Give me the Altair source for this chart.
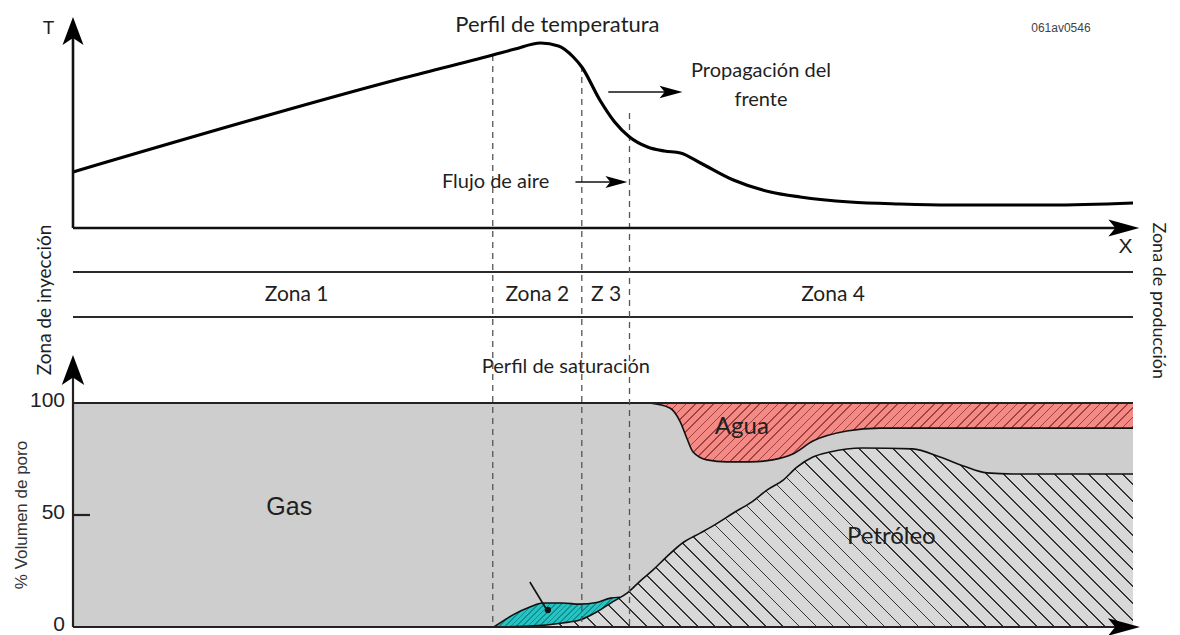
import altair as alt
import numpy as np
import pandas as pd

# ---------------- data ----------------
# x: distance along the reservoir (0 = injection side, 100 = production side)
TEMP_X = [0, 30.8, 39.6, 41.7, 44.1, 45.8, 47.2, 48.0, 49.7, 51.1, 52.5, 54.2, 55.8,
          57.3, 59.2, 62.3, 65.8, 68.6, 73.3, 78.0, 82.7, 92.2, 100]
TEMP_T = [28, 74.5, 86.5, 89.5, 92.5, 91, 85.5, 80.5, 64, 53, 45.5, 40.5, 38.5,
          37.5, 32.5, 24, 18, 15.5, 13, 12, 11.5, 11.5, 12.5]

FRONT_X = [39.6, 48.0, 52.5]
FRONT_TOP_T = [86.5, 81, 57.5]

ZONE_LABELS = ["Zona 1", "Zona 2", "Z 3", "Zona 4"]
ZONE_X = [21.1, 43.8, 50.3, 71.7]

SAT_TICKS = [0, 50, 100]

OIL_X = [39.7, 43.1, 46.2, 47.8, 49.4, 50.9, 52.3, 53.5, 54.7, 56.0, 57.5, 59.2, 60.8,
         62.3, 63.9, 65.5, 67.0, 68.3, 69.8, 71.4, 74.5, 79.2, 81.8, 84.0, 86.2, 88.7, 100]
OIL_TOP = [0, 0.4, 1.8, 3.1, 6.7, 11.2, 15.2, 20.5, 25.4, 31.3, 37.5, 42.0, 46.4,
           50.9, 55.4, 61.2, 65.6, 71.4, 75.9, 78.1, 79.9, 79.5, 75.9, 71.9, 68.8, 68.3, 68.3]

TEAL_X = [39.7, 41.5, 43.1, 44.3, 46.2, 47.8, 49.4, 50.7, 51.6]
TEAL_TOP = [0, 5.4, 8.9, 10.7, 10.7, 10.2, 10.9, 12.9, 13.3]
TEAL_BOTTOM = [0, 0.2, 0.4, 0.8, 1.8, 3.1, 6.7, 10.4, 13.3]

WATER_X = [54.4, 56.3, 57.3, 57.9, 58.5, 59.8, 61.7, 63.9, 66.0, 67.9, 69.8, 73.0, 76.1, 100]
WATER_BOTTOM = [100, 97.8, 91.5, 84.4, 78.1, 74.6, 73.7, 73.7, 74.6, 77.2, 83.0, 87.5, 88.8, 88.8]

# ---------------- layout / scales ----------------
W, H = 1164, 619
X_RANGE = [65, 1125]
YT_RANGE = [220, 20]     # temperature panel
YB_RANGE = [309, 264]    # zone band
YS_RANGE = [619, 395]    # saturation panel

XS = alt.Scale(domain=[0, 100], range=X_RANGE, nice=False, zero=False)
YT = alt.Scale(domain=[0, 100], range=YT_RANGE, nice=False, zero=False)
YB = alt.Scale(domain=[0, 1], range=YB_RANGE, nice=False, zero=False)
YS = alt.Scale(domain=[0, 100], range=YS_RANGE, nice=False, zero=False)

PX_X = (X_RANGE[1] - X_RANGE[0]) / 100.0
PX_YS = (YS_RANGE[0] - YS_RANGE[1]) / 100.0

LATO = "Lato"
ARIAL = "Liberation Sans"
INK = "#1f1f1f"

UP_BIG = "M0,0 L0.75,2 L0,1.5 L-0.75,2 Z"
SLIM = "M0,0 L0.55,2 L0,1.55 L-0.55,2 Z"


def hatch(w, h, direction, spacing, lw, bg, fg):
    s = 1 / np.sqrt(2)
    nx, ny = (s, -s) if direction == "\\" else (s, s)
    ex, ey = nx * w, ny * h
    q = [u * ex + v * ey for u, v in [(0, 0), (1, 0), (0, 1), (1, 1)]]
    qmin, qmax = min(q), max(q)
    qc = 0.5 * (ex + ey)
    e2 = ex * ex + ey * ey
    x1 = 0.5 + ex * (qmin - qc) / e2
    y1 = 0.5 + ey * (qmin - qc) / e2
    x2 = 0.5 + ex * (qmax - qc) / e2
    y2 = 0.5 + ey * (qmax - qc) / e2
    D = qmax - qmin
    n = int(np.ceil(D / spacing))
    stops = []
    for i in range(n):
        a = min(1.0, i * spacing / D)
        b = min(1.0, (i * spacing + lw) / D)
        c = min(1.0, (i + 1) * spacing / D)
        stops += [alt.GradientStop(offset=round(a, 5), color=fg),
                  alt.GradientStop(offset=round(b, 5), color=fg),
                  alt.GradientStop(offset=round(b, 5), color=bg),
                  alt.GradientStop(offset=round(c, 5), color=bg)]
    return alt.LinearGradient(gradient="linear", x1=float(x1), y1=float(y1),
                              x2=float(x2), y2=float(y2), stops=stops)


def bbox(xs, ys_lo, ys_hi):
    return ((max(xs) - min(xs)) * PX_X, (max(ys_hi) - min(ys_lo)) * PX_YS)


def X(field="x"):
    return alt.X(f"{field}:Q", scale=XS, axis=None)


def texts(df, yscale, font, align="center", color=INK, angle=0, dy=0):
    return alt.Chart(df).mark_text(font=font, align=align, baseline="middle",
                                   color=color, angle=angle, dy=dy).encode(
        x=X(), y=alt.Y("y:Q", scale=yscale, axis=None), text="label:N",
        size=alt.Size("size:Q", scale=None, legend=None))


def arrows(df, yscale, shape):
    return alt.Chart(df).mark_point(shape=shape, filled=True, color="black",
                                    opacity=1, strokeWidth=0).encode(
        x=X(), y=alt.Y("y:Q", scale=yscale, axis=None),
        size=alt.Size("size:Q", scale=None, legend=None),
        angle=alt.Angle("angle:Q", scale=None, legend=None))


def rules(df, yscale, color="black", width=2.0, dash=None):
    kw = dict(color=color, strokeWidth=width)
    if dash:
        kw["strokeDash"] = dash
    return alt.Chart(df).mark_rule(**kw).encode(
        x=X(), x2="x2:Q", y=alt.Y("y:Q", scale=yscale, axis=None), y2="y2:Q")


# ---------------- saturation panel ----------------
gas_df = pd.DataFrame({"x": [0, 100], "top": [100, 100]})
oil_df = pd.DataFrame({"x": OIL_X, "top": OIL_TOP})
teal_df = pd.DataFrame({"x": TEAL_X, "top": TEAL_TOP, "bottom": TEAL_BOTTOM})
water_df = pd.DataFrame({"x": WATER_X, "w": WATER_BOTTOM})

ow, oh = bbox(OIL_X, [0], OIL_TOP)
ww, wh = bbox(WATER_X, WATER_BOTTOM, [100])
tw, th = bbox(TEAL_X, TEAL_BOTTOM, TEAL_TOP)

gas = alt.Chart(gas_df).mark_area(fill="#cecece").encode(
    x=X(), y=alt.Y("top:Q", scale=YS, axis=None), y2=alt.datum(0))

oil = alt.Chart(oil_df).mark_area(
    interpolate="monotone",
    fill=hatch(ow, oh, "\\", 12, 1.2, "#d8d8d8", "#333333")).encode(
    x=X(), y=alt.Y("top:Q", scale=YS, axis=None), y2=alt.datum(0))

water = alt.Chart(water_df).mark_area(
    interpolate="monotone",
    fill=hatch(ww, wh, "/", 6.5, 1.1, "#f38a86", "#a04240")).encode(
    x=X(), y=alt.Y("w:Q", scale=YS, axis=None), y2=alt.datum(100))

teal = alt.Chart(teal_df).mark_area(
    interpolate="monotone",
    fill=hatch(tw, th, "/", 4, 1.1, "#25c3c3", "#11908f")).encode(
    x=X(), y=alt.Y("top:Q", scale=YS, axis=None), y2="bottom:Q")

line_kw = dict(color="#111", strokeWidth=1.6, interpolate="monotone")
oil_line = alt.Chart(oil_df).mark_line(**line_kw).encode(
    x=X(), y=alt.Y("top:Q", scale=YS, axis=None))
teal_line = alt.Chart(teal_df).mark_line(**line_kw).encode(
    x=X(), y=alt.Y("top:Q", scale=YS, axis=None))
water_line = alt.Chart(water_df).mark_line(**line_kw).encode(
    x=X(), y=alt.Y("w:Q", scale=YS, axis=None))

sat_frame = rules(pd.DataFrame({"x": [0, 0, 0, 0], "x2": [100, 0, 99.4, 1.6],
                                "y": [100, 0, 0, 50], "y2": [100, 118, 0, 50]}),
                  YS, color="#222", width=2.2)
sat_up = arrows(pd.DataFrame({"x": [0], "y": [121.4], "size": [900], "angle": [0]}), YS, UP_BIG)
sat_right = arrows(pd.DataFrame({"x": [100.66], "y": [0], "size": [1024], "angle": [90]}), YS, SLIM)

pointer = rules(pd.DataFrame({"x": [43.1], "x2": [44.7], "y": [20.1], "y2": [7.6]}), YS,
                color="#111", width=1.6)
dot = alt.Chart(pd.DataFrame({"x": [44.8], "y": [7.6]})).mark_point(
    filled=True, color="#111", size=40, opacity=1).encode(
    x=X(), y=alt.Y("y:Q", scale=YS, axis=None))

tick_labels = texts(pd.DataFrame({"label": [str(v) for v in SAT_TICKS],
                                  "x": [-0.75] * len(SAT_TICKS), "y": SAT_TICKS,
                                  "size": [21] * len(SAT_TICKS)}),
                    YS, ARIAL, align="right", color="#222", dy=-2)
axis_title = texts(pd.DataFrame({"label": ["% Volumen de poro"], "x": [-4.81], "y": [50],
                                 "size": [17]}), YS, ARIAL, color="#333", angle=270)

sat_text_lato = texts(pd.DataFrame({
    "label": ["Perfil de saturación", "Agua", "Petróleo"],
    "x": [46.5, 63.1, 77.2], "y": [116, 89.3, 40.2], "size": [20, 24, 24]}), YS, LATO)
sat_text_arial = texts(pd.DataFrame({
    "label": ["Gas"], "x": [20.4], "y": [53.6], "size": [25]}), YS, ARIAL)

saturation = alt.layer(gas, oil, water, teal, oil_line, teal_line, water_line,
                       sat_frame, sat_up, sat_right, pointer, dot,
                       tick_labels, axis_title, sat_text_lato, sat_text_arial)

# ---------------- zone band ----------------
band_lines = rules(pd.DataFrame({"x": [0, 0], "x2": [100, 100], "y": [0, 1], "y2": [0, 1]}),
                   YB, color="#2a2a2a", width=2.0)
zone_text = texts(pd.DataFrame({"label": ZONE_LABELS, "x": ZONE_X,
                                "y": [0.5] * 4, "size": [21] * 4}), YB, LATO)
inj_text = texts(pd.DataFrame({"label": ["Zona de inyección"], "x": [-2.64], "y": [0.38],
                               "size": [19]}), YB, LATO, angle=270)
prod_text = texts(pd.DataFrame({"label": ["Zona de producción"], "x": [102.35], "y": [0.36],
                                "size": [18]}), YB, LATO, angle=90)
band = alt.layer(band_lines, zone_text, inj_text, prod_text)

# ---------------- temperature panel ----------------
temp_df = pd.DataFrame({"x": TEMP_X, "t": TEMP_T})
front_df = pd.DataFrame({"x": FRONT_X, "top": FRONT_TOP_T})

fronts = alt.Chart(front_df).mark_rule(color="#555", strokeWidth=1.3,
                                       strokeDash=[6, 5]).encode(
    x=X(), y=alt.Y("top:Q", scale=YT, axis=None), y2=alt.value("height"))
temp_line = alt.Chart(temp_df).mark_line(color="black", strokeWidth=3.2,
                                         interpolate="monotone").encode(
    x=X(), y=alt.Y("t:Q", scale=YT, axis=None))
temp_frame = rules(pd.DataFrame({"x": [0, 0], "x2": [0, 99.4], "y": [0, 0], "y2": [100, 0]}),
                   YT, color="#111", width=2.6)
flow_shafts = rules(pd.DataFrame({"x": [50.5, 47.4], "x2": [56.0, 51.0],
                                  "y": [68, 23], "y2": [68, 23]}), YT, color="#111", width=1.6)
temp_up = arrows(pd.DataFrame({"x": [0], "y": [105.5], "size": [784], "angle": [0]}), YT, UP_BIG)
temp_right = arrows(pd.DataFrame({"x": [100.6, 57.5, 52.3], "y": [0, 68, 23],
                                  "size": [961, 529, 484], "angle": [90, 90, 90]}), YT, SLIM)
temp_text_c = texts(pd.DataFrame({
    "label": ["Perfil de temperatura", "Propagación del", "frente"],
    "x": [45.7, 64.9, 64.9], "y": [101.5, 78.5, 64], "size": [22, 20, 20]}), YT, LATO)
temp_text_l = texts(pd.DataFrame({"label": ["Flujo de aire"], "x": [34.8], "y": [23],
                                  "size": [20]}), YT, LATO, align="left")
temp_text_a = texts(pd.DataFrame({"label": ["T", "X"], "x": [-2.3, 99.3], "y": [100, -9.5],
                                  "size": [19, 21]}), YT, ARIAL)
code_text = texts(pd.DataFrame({"label": ["061av0546"], "x": [93.2], "y": [100], "size": [12]}),
                  YT, ARIAL, color="#444")

temperature = alt.layer(fronts, temp_line, temp_frame, flow_shafts, temp_up, temp_right,
                        temp_text_c, temp_text_l, temp_text_a, code_text)

chart = alt.layer(saturation, band, temperature).resolve_scale(y="independent").properties(
    width=W, height=H,
    autosize=alt.AutoSizeParams(type="none"),
    padding={"left": 0, "top": 0, "right": 0, "bottom": 8},
    background="white",
).configure_view(stroke=None)

chart.save("out.html", embed_options={"renderer": "svg", "actions": False})
